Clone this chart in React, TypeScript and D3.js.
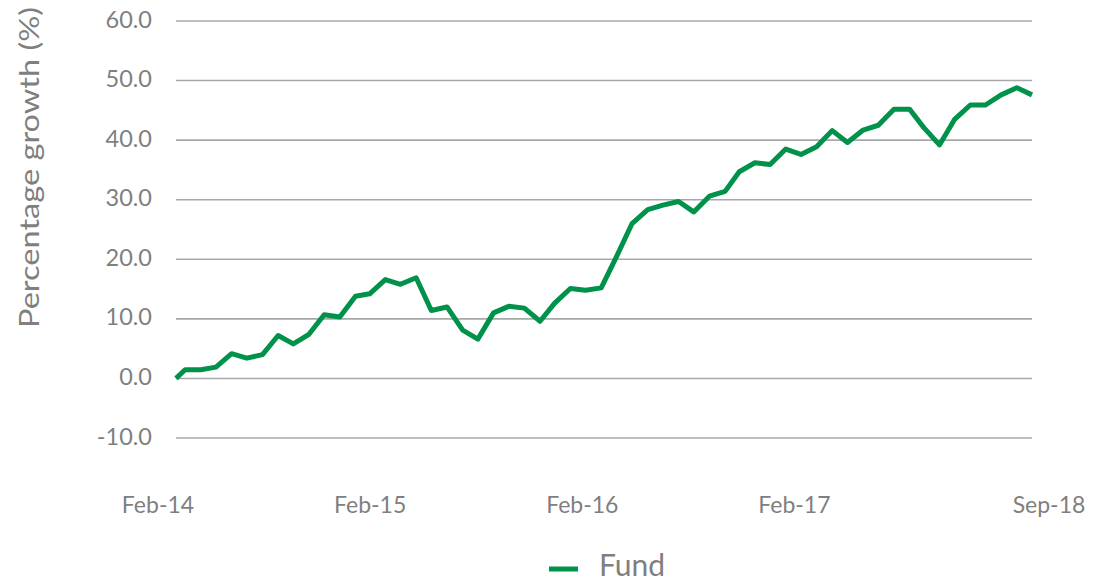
import React from "react";
import * as d3 from "d3";

// Fund start date (inception) followed by month-end observations Feb-14 … Sep-18
const startDate = new Date(2014, 1, 10);
const monthEnds = d3.timeMonth
  .range(new Date(2014, 2, 1), new Date(2018, 9, 2))
  .map((d) => d3.timeDay.offset(d, -1));
const dates: Date[] = [startDate, ...monthEnds];

const fundValues: number[] = [
  0, 1.45, 1.45, 1.9, 4.15, 3.4, 4.0, 7.2, 5.8, 7.4,
  10.7, 10.3, 13.8, 14.2, 16.6, 15.8, 16.9, 11.4, 12.0, 8.1,
  6.6, 11.0, 12.1, 11.8, 9.6, 12.65, 15.1, 14.8, 15.2, 20.4,
  26.0, 28.35, 29.1, 29.7, 27.95, 30.6, 31.4, 34.7, 36.2, 35.9,
  38.5, 37.6, 38.9, 41.6, 39.6, 41.7, 42.5, 45.2, 45.2, 42.1,
  39.2, 43.5, 45.9, 45.9, 47.6, 48.8, 47.6,
];

const yTicks: number[] = [-10, 0, 10, 20, 30, 40, 50, 60];
const xTickLabels: string[] = ["Feb-14", "Feb-15", "Feb-16", "Feb-17", "Sep-18"];
const xTickSlots: number[] = [0, 1, 2, 3, 4.2];

const seriesName = "Fund";
const yTitle = "Percentage growth (%)";
const green = "#00924A";
const grey = "#7F7F7F";
const gridColor = "#A8A8A8";
const font = "Lato, 'Open Sans', sans-serif";

export default function App() {
  const W = 1108;
  const H = 582;
  const left = 176;
  const right = 1032;
  const top = 21;
  const bottom = 438;

  const x = d3.scaleTime().domain([dates[0], dates[dates.length - 1]]).range([left, right]);
  const y = d3.scaleLinear().domain([-10, 60]).range([bottom, top]);
  const xl = d3.scaleLinear().domain([0, 4.2]).range([158, 1049]);

  const line = d3
    .line<number>()
    .x((_, i) => x(dates[i]))
    .y((v) => y(v));

  return (
    <svg
      width={W}
      height={H}
      style={{ position: "absolute", left: 0, top: 0, background: "#fff" }}
      fontFamily={font}
    >
      {yTicks.map((t) => (
        <g key={t}>
          <line x1={left} x2={right} y1={y(t)} y2={y(t)} stroke={gridColor} strokeWidth={1.6} />
          <text x={152} y={y(t)} dy="0.28em" textAnchor="end" fontSize={23.5} fill={grey}>
            {t.toFixed(1)}
          </text>
        </g>
      ))}
      <path
        d={line(fundValues) || ""}
        fill="none"
        stroke={green}
        strokeWidth={5}
        strokeLinejoin="round"
      />
      {xTickLabels.map((lab, i) => (
        <text key={lab} x={xl(xTickSlots[i])} y={513} textAnchor="middle" fontSize={23} fill={grey}>
          {lab}
        </text>
      ))}
      <text
        transform={`translate(39,167.5) rotate(-90)`}
        textAnchor="middle"
        fontSize={27}
        fill={grey}
        textLength={321}
        lengthAdjust="spacingAndGlyphs"
      >
        {yTitle}
      </text>
      <line x1={549} x2={578} y1={569} y2={569} stroke={green} strokeWidth={5} />
      <text x={599} y={576} fontSize={30} fill={grey}>
        {seriesName}
      </text>
    </svg>
  );
}
